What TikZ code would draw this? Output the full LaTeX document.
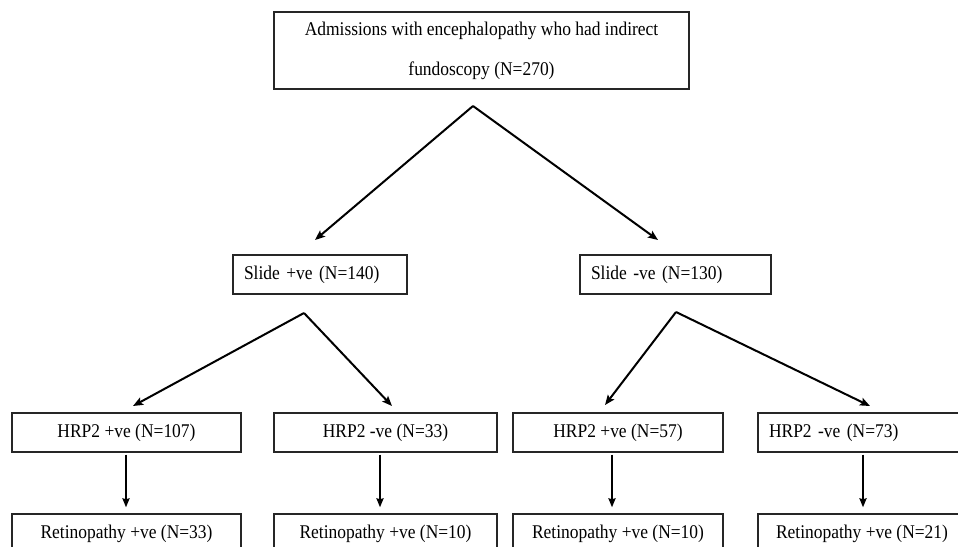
\documentclass[tikz,border=0pt]{standalone}
\usepackage{fontspec}
\setmainfont{Liberation Serif}[FakeStretch=0.9]
\usetikzlibrary{arrows.meta,calc}
\begin{document}
\begin{tikzpicture}[x=1pt,y=-1pt,
  box/.style={draw=black!85,line width=1.3pt,minimum height=39pt,inner sep=0pt,
    font=\fontsize{19.4}{22}\selectfont,anchor=center},
  lbox/.style={box,align=left,inner xsep=11pt},
  arr/.style={line width=2pt,-{Stealth[length=10pt,width=8pt,inset=2pt]}},
  varr/.style={line width=2.3pt,-{Stealth[length=9pt,width=7pt,inset=1pt]}}]
\clip (0,0) rectangle (958,546);
\fill[white] (0,0) rectangle (958,546);
% top box
\node[box,minimum width=415pt,minimum height=77pt,align=center,
  font=\fontsize{19.4}{40}\selectfont] (top) at (481.5,50.5)
  {Admissions with encephalopathy who had indirect\\fundoscopy (N=270)};
% slide boxes
\node[lbox,minimum width=174pt,text width=152pt] (sp) at (320,274.5) {Slide +ve (N=140)};
\node[lbox,minimum width=191pt,text width=169pt] (sm) at (675.5,274.5) {Slide -ve (N=130)};
% HRP2 boxes
\node[box,minimum width=229pt] (h1) at (126.5,432.5) {HRP2 +ve (N=107)};
\node[box,minimum width=223pt] (h2) at (385.5,432.5) {HRP2 -ve (N=33)};
\node[box,minimum width=210pt] (h3) at (618,432.5) {HRP2 +ve (N=57)};
\node[lbox,minimum width=208pt,text width=186pt] (h4) at (862,432.5) {HRP2 -ve (N=73)};
% retinopathy boxes
\node[box,minimum width=229pt] (r1) at (126.5,533.5) {Retinopathy +ve (N=33)};
\node[box,minimum width=223pt] (r2) at (385.5,533.5) {Retinopathy +ve (N=10)};
\node[box,minimum width=210pt] (r3) at (618,533.5) {Retinopathy +ve (N=10)};
\node[box,minimum width=208pt] (r4) at (862,533.5) {Retinopathy +ve (N=21)};
% branch points
\coordinate (a0) at (473,106);
\coordinate (t1) at (315,240);
\coordinate (t2) at (658,240);
\coordinate (a1) at (304,313);
\coordinate (t3) at (133,406);
\coordinate (t4) at (392,406);
\coordinate (a2) at (676,312);
\coordinate (t5) at (605,405);
\coordinate (t6) at (870,406);
\draw[arr] (a0) -- (t1);
\draw[arr] (a0) -- (t2);
\draw[arr] (a1) -- (t3);
\draw[arr] (a1) -- (t4);
\draw[arr] (a2) -- (t5);
\draw[arr] (a2) -- (t6);
% vertical arrows
\draw[varr,shorten <=2pt,shorten >=6pt] ($(h1.south)+(-0.5,0)$) -- ($(r1.north)+(-0.5,0)$);
\draw[varr,shorten <=2pt,shorten >=6pt] ($(h2.south)+(-5.5,0)$) -- ($(r2.north)+(-5.5,0)$);
\draw[varr,shorten <=2pt,shorten >=6pt] ($(h3.south)+(-6,0)$) -- ($(r3.north)+(-6,0)$);
\draw[varr,shorten <=2pt,shorten >=6pt] ($(h4.south)+(1,0)$) -- ($(r4.north)+(1,0)$);
\end{tikzpicture}
\end{document}
